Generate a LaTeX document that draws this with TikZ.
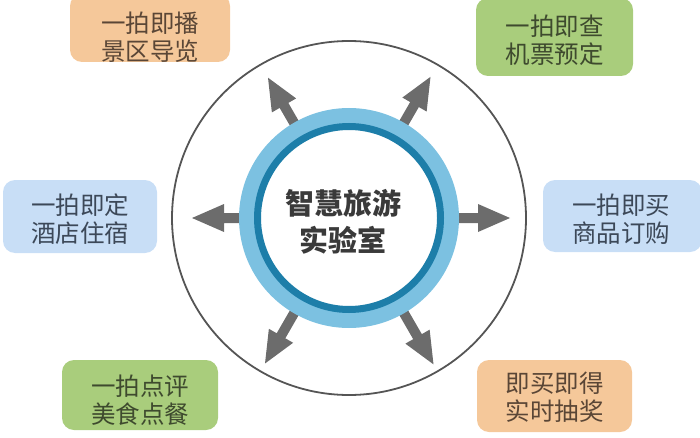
\documentclass[tikz,border=0pt]{standalone}
\usepackage{xcolor}
\usepackage{fontspec}
\usepackage{tikz}
\usetikzlibrary{positioning}

\newfontfamily\cjk{Noto Sans CJK SC}

\definecolor{peach}{HTML}{F5C89A}
\definecolor{leaf}{HTML}{A9CD7C}
\definecolor{sky}{HTML}{C8DEF6}
\definecolor{ringlight}{HTML}{7CC1E1}
\definecolor{ringdark}{HTML}{1D7EA9}
\definecolor{arrowgray}{HTML}{6C6C6C}
\definecolor{rimgray}{HTML}{555555}
\definecolor{hubgray}{HTML}{3A3A3A}
\definecolor{browntext}{HTML}{5A4636}
\definecolor{olivetext}{HTML}{3E4A2E}
\definecolor{slatetext}{HTML}{3C4858}

\begin{document}
\begin{tikzpicture}[x=1pt,y=1pt,
  card/.style={rounded corners=12pt, inner sep=0pt},
  cardtext/.style={align=center, inner sep=0pt, font=\cjk\fontsize{24.5}{28}\selectfont},
  hubtext/.style={align=center, inner sep=0pt, text=hubgray, font=\cjk\bfseries\fontsize{29}{37}\selectfont}]

\useasboundingbox (0,0) rectangle (700,437);
\coordinate (c) at (349,219);

% outer ring
\draw[rimgray, line width=1.8pt] (c) circle (177);

% six arrows out of the hub
\foreach \ang/\tip in {0/161,60/163,120/162,180/157,240/168,300/169}{
  \begin{scope}[shift={(c)}, rotate=\ang]
    \fill[arrowgray] (100,-5) -- ({\tip-32},-5) -- ({\tip-32},-14) -- (\tip,0)
      -- ({\tip-32},14) -- ({\tip-32},5) -- (100,5) -- cycle;
  \end{scope}
}

% hub
\fill[ringlight] (c) circle (110);
\node[circle, draw=ringdark, line width=7pt, fill=white, minimum size=183pt, inner sep=0pt] (hub) at (c) {};
\node[hubtext] (hublabel) at (343,215.5) {智慧旅游\\实验室};

% --- Top Row ---
\node[card, fill=peach, minimum width=160pt, minimum height=68pt] (bofang) at (150,409) {};
\node[cardtext, text=browntext] (bofanglabel) at (150,400) {一拍即播\\景区导览};

\node[card, fill=leaf, minimum width=157pt, minimum height=78pt] (jipiao) at (554.5,400) {};
\node[cardtext, text=olivetext] (jipiaolabel) at (554.5,397) {一拍即查\\机票预定};

% --- Middle Row ---
\node[card, fill=sky, minimum width=154pt, minimum height=73pt] (jiudian) at (80,220.5) {};
\node[cardtext, text=slatetext] (jiudianlabel) at (80,218) {一拍即定\\酒店住宿};

\node[card, fill=sky, minimum width=159pt, minimum height=72pt] (shangpin) at (622.5,221) {};
\node[cardtext, text=slatetext] (shangpinlabel) at (621,218) {一拍即买\\商品订购};

% --- Bottom Row ---
\node[card, fill=leaf, minimum width=156pt, minimum height=70pt] (meishi) at (140,42) {};
\node[cardtext, text=olivetext] (meishilabel) at (140,37) {一拍点评\\美食点餐};

\node[card, fill=peach, minimum width=155pt, minimum height=72pt] (choujiang) at (554.5,41) {};
\node[cardtext, text=browntext] (choujianglabel) at (554.5,39.5) {即买即得\\实时抽奖};

\end{tikzpicture}
\end{document}
